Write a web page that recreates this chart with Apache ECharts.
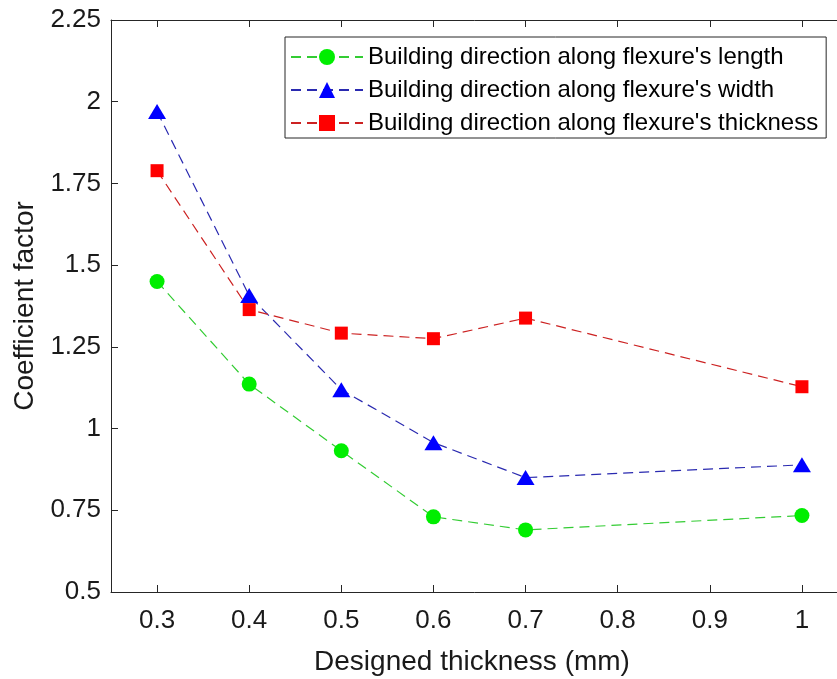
<!DOCTYPE html>
<html>
<head>
<meta charset="utf-8">
<script src="https://cdn.jsdelivr.net/npm/echarts@6/dist/echarts.min.js"></script>
<style>html,body{margin:0;padding:0;background:#fff}#c{width:837px;height:679px}</style>
</head>
<body>
<div id="c"></div>
<script>
var thickness = [0.3, 0.4, 0.5, 0.6, 0.7, 1.0];
var alongLength = [1.45, 1.136, 0.932, 0.730, 0.690, 0.734];
var alongWidth = [1.97, 1.407, 1.119, 0.957, 0.850, 0.889];
var alongThickness = [1.789, 1.364, 1.292, 1.275, 1.338, 1.128];
var xTicks = [0.3, 0.4, 0.5, 0.6, 0.7, 0.8, 0.9, 1];
var seriesNames = ["Building direction along flexure's length", "Building direction along flexure's width", "Building direction along flexure's thickness"];

function pairs(ys) { return thickness.map(function (x, i) { return [x, ys[i]]; }); }

var FONT = 'Liberation Sans, Arial, Helvetica, sans-serif';
var AX = '#262626';
var chart = echarts.init(document.getElementById('c'), null, { renderer: 'canvas' });
chart.setOption({
  animation: false,
  backgroundColor: '#fff',
  grid: { left: 111, top: 20, width: 737, height: 572, containLabel: false, outerBoundsMode: 'none' },
  legend: {
    orient: 'vertical', left: 285, top: 37,
    padding: [8, 8, 3, 5], itemGap: 9, itemWidth: 72, itemHeight: 20,
    backgroundColor: '#fff', borderColor: AX, borderWidth: 1,
    textStyle: { fontFamily: FONT, fontSize: 24, color: '#000' },
    data: seriesNames
  },
  xAxis: [{
    type: 'value', min: 0.25, max: 1.05, position: 'bottom',
    axisLine: { show: true, lineStyle: { color: AX, width: 1 } },
    axisTick: { show: true, inside: true, length: 7, lineStyle: { color: AX }, customValues: xTicks },
    axisLabel: { show: true, margin: 16, fontFamily: FONT, fontSize: 26, color: '#1a1a1a', customValues: xTicks },
    splitLine: { show: false },
    name: 'Designed thickness (mm)', nameLocation: 'middle', nameGap: 56,
    nameTextStyle: { fontFamily: FONT, fontSize: 28, color: '#1a1a1a', padding: [0, 15, 0, 0] }
  }, {
    type: 'value', min: 0.25, max: 1.05, position: 'top',
    axisLine: { show: true, onZero: false, lineStyle: { color: AX, width: 1 } },
    axisTick: { show: true, inside: true, length: 7, lineStyle: { color: AX }, customValues: xTicks },
    axisLabel: { show: false },
    splitLine: { show: false }
  }],
  yAxis: [{
    type: 'value', min: 0.5, max: 2.25, interval: 0.25, position: 'left',
    axisLine: { show: true, lineStyle: { color: AX, width: 1 } },
    axisTick: { show: true, inside: true, length: 7, lineStyle: { color: AX } },
    axisLabel: { show: true, margin: 10, fontFamily: FONT, fontSize: 26, color: '#1a1a1a' },
    splitLine: { show: false },
    name: 'Coefficient factor', nameLocation: 'middle', nameGap: 72,
    nameTextStyle: { fontFamily: FONT, fontSize: 28, color: '#1a1a1a' }
  }],
  series: [{
    name: seriesNames[0], type: 'line', data: pairs(alongLength),
    symbol: 'circle', symbolSize: 15,
    itemStyle: { color: '#00ee00' },
    lineStyle: { color: '#33cc33', width: 1.2, type: [10, 6] }
  }, {
    name: seriesNames[1], type: 'line', data: pairs(alongWidth),
    symbol: 'triangle', symbolSize: [18, 15],
    itemStyle: { color: '#0000ff' },
    lineStyle: { color: '#2a2ab0', width: 1.2, type: [10, 6] }
  }, {
    name: seriesNames[2], type: 'line', data: pairs(alongThickness),
    symbol: 'rect', symbolSize: 13,
    itemStyle: { color: '#ff0000' },
    lineStyle: { color: '#cc2222', width: 1.2, type: [10, 6] }
  }]
});
</script>
</body>
</html>
